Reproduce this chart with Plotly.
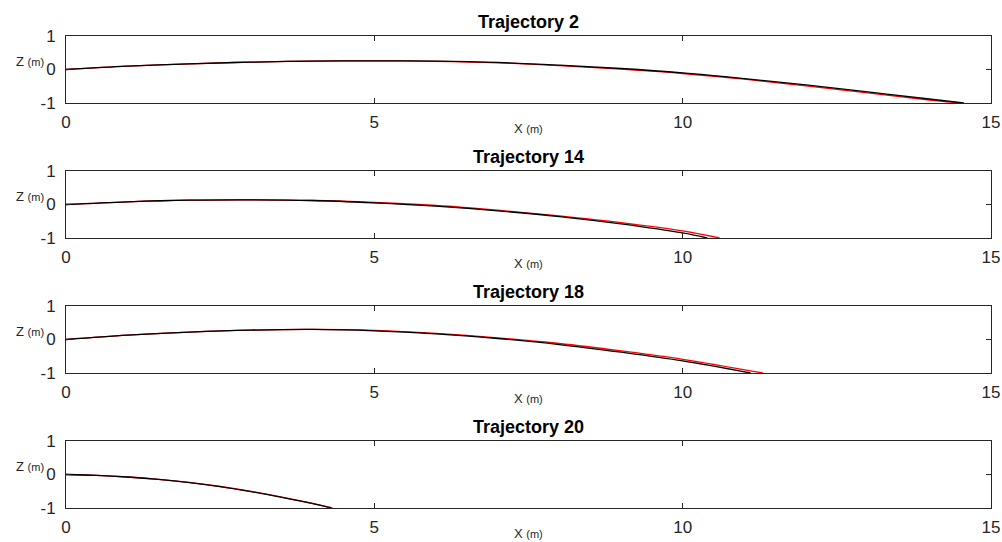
import plotly.graph_objects as go
from plotly.subplots import make_subplots

titles = ["Trajectory 2", "Trajectory 14", "Trajectory 18", "Trajectory 20"]

# Trajectory 2
x2_black = [0, 1, 2, 3, 4, 5, 6, 7, 8, 9, 10, 11, 12, 13, 14, 14.56]
z2_black = [0, 0.10, 0.17, 0.22, 0.25, 0.26, 0.25, 0.21, 0.13, 0.03, -0.10, -0.27, -0.46, -0.67, -0.88, -1.0]
x2_red = [0, 1, 2, 3, 4, 5, 6, 7, 8, 9, 10, 11, 12, 13, 14, 14.5]
z2_red = [0, 0.10, 0.17, 0.22, 0.25, 0.26, 0.245, 0.20, 0.115, 0.01, -0.12, -0.29, -0.49, -0.70, -0.91, -1.0]

# Trajectory 14
x14_black = [0, 1, 2, 3, 4, 5, 6, 7, 8, 9, 10, 10.4]
z14_black = [0, 0.08, 0.13, 0.14, 0.12, 0.05, -0.05, -0.19, -0.36, -0.58, -0.85, -1.0]
x14_red = [0, 1, 2, 3, 4, 5, 6, 7, 8, 9, 10, 10.6]
z14_red = [0, 0.08, 0.13, 0.14, 0.12, 0.06, -0.03, -0.17, -0.34, -0.54, -0.79, -1.0]

# Trajectory 18
x18_black = [0, 1, 2, 3, 4, 5, 6, 7, 8, 9, 10, 11.1]
z18_black = [0, 0.13, 0.22, 0.28, 0.30, 0.26, 0.17, 0.03, -0.15, -0.38, -0.64, -1.0]
x18_red = [0, 1, 2, 3, 4, 5, 6, 7, 8, 9, 10, 11.3]
z18_red = [0, 0.13, 0.22, 0.28, 0.30, 0.27, 0.18, 0.05, -0.12, -0.34, -0.59, -1.0]

# Trajectory 20
x20_black = [0, 0.5, 1, 1.5, 2, 2.5, 3, 3.5, 4, 4.3]
z20_black = [0, -0.025, -0.075, -0.145, -0.24, -0.36, -0.51, -0.68, -0.87, -1.0]
x20_red = [0, 0.5, 1, 1.5, 2, 2.5, 3, 3.5, 4, 4.32]
z20_red = [0, -0.025, -0.074, -0.144, -0.238, -0.358, -0.505, -0.675, -0.865, -1.0]

x_ticks = [0, 5, 10, 15]
z_ticks = [-1, 0, 1]

series = [
    (x2_red, z2_red, x2_black, z2_black),
    (x14_red, z14_red, x14_black, z14_black),
    (x18_red, z18_red, x18_black, z18_black),
    (x20_red, z20_red, x20_black, z20_black),
]

W, H = 1002, 542
fig = make_subplots(rows=4, cols=1)

# pixel boxes of plot areas (top, bottom)
boxes = [(36, 103), (171, 238), (306, 373), (441, 508)]
left_px, right_px = 66, 991

axcol = "#262626"
font_family = "Liberation Sans, Arial, Helvetica, sans-serif"

for i, (xr, zr, xb, zb) in enumerate(series):
    row = i + 1
    fig.add_trace(go.Scatter(x=xr, y=zr, mode="lines", line=dict(color="#ff0000", width=1.3, shape="spline"),
                             showlegend=False, hoverinfo="skip"), row=row, col=1)
    fig.add_trace(go.Scatter(x=xb, y=zb, mode="lines", line=dict(color="#000000", width=1.3, shape="spline"),
                             showlegend=False, hoverinfo="skip"), row=row, col=1)
    top, bot = boxes[i]
    xa = "xaxis" if row == 1 else f"xaxis{row}"
    ya = "yaxis" if row == 1 else f"yaxis{row}"
    fig.layout[xa].update(domain=[left_px / W, right_px / W], range=[0, 15], tickvals=x_ticks,
                          ticktext=[str(v) for v in x_ticks], automargin=False,
                          showline=True, linecolor=axcol, linewidth=1, mirror="ticks",
                          ticks="inside", ticklen=5, tickcolor=axcol, showgrid=False, zeroline=False,
                          tickfont=dict(size=17, color=axcol, family=font_family), ticklabelstandoff=4)
    fig.layout[ya].update(domain=[1 - bot / H, 1 - top / H], range=[-1, 1], tickvals=z_ticks,
                          ticktext=[str(v) for v in z_ticks], automargin=False,
                          showline=True, linecolor=axcol, linewidth=1, mirror="ticks",
                          ticks="inside", ticklen=5, tickcolor=axcol, showgrid=False, zeroline=False,
                          tickfont=dict(size=17, color=axcol, family=font_family), ticklabelstandoff=6)
    xd = "x domain" if row == 1 else f"x{row} domain"
    yd = "y domain" if row == 1 else f"y{row} domain"
    yref = "y" if row == 1 else f"y{row}"
    fig.add_annotation(text=f"<b>{titles[i]}</b>", xref=xd, yref=yd, x=0.5, y=1, yanchor="bottom",
                       yshift=2, showarrow=False, font=dict(size=18, color="#000000", family=font_family))
    fig.add_annotation(text="X <span style='font-size:11px'>(m)</span>", xref=xd, yref=yd, x=0.5, y=0,
                       yanchor="middle", yshift=-25,
                       showarrow=False, font=dict(size=13, color=axcol, family=font_family))
    fig.add_annotation(text="Z <span style='font-size:11px'>(m)</span>", xref=xd, yref=yref, x=0, y=0,
                       xanchor="right", yanchor="middle",
                       xshift=-20, yshift=8, showarrow=False, font=dict(size=13, color=axcol, family=font_family))

fig.update_layout(width=W, height=H, margin=dict(l=0, r=0, t=0, b=0, pad=0, autoexpand=False),
                  plot_bgcolor="white", paper_bgcolor="white", font=dict(family=font_family))

fig.write_html("out.html", post_script="document.body.style.margin='0px';",
               config={"displayModeBar": False})
